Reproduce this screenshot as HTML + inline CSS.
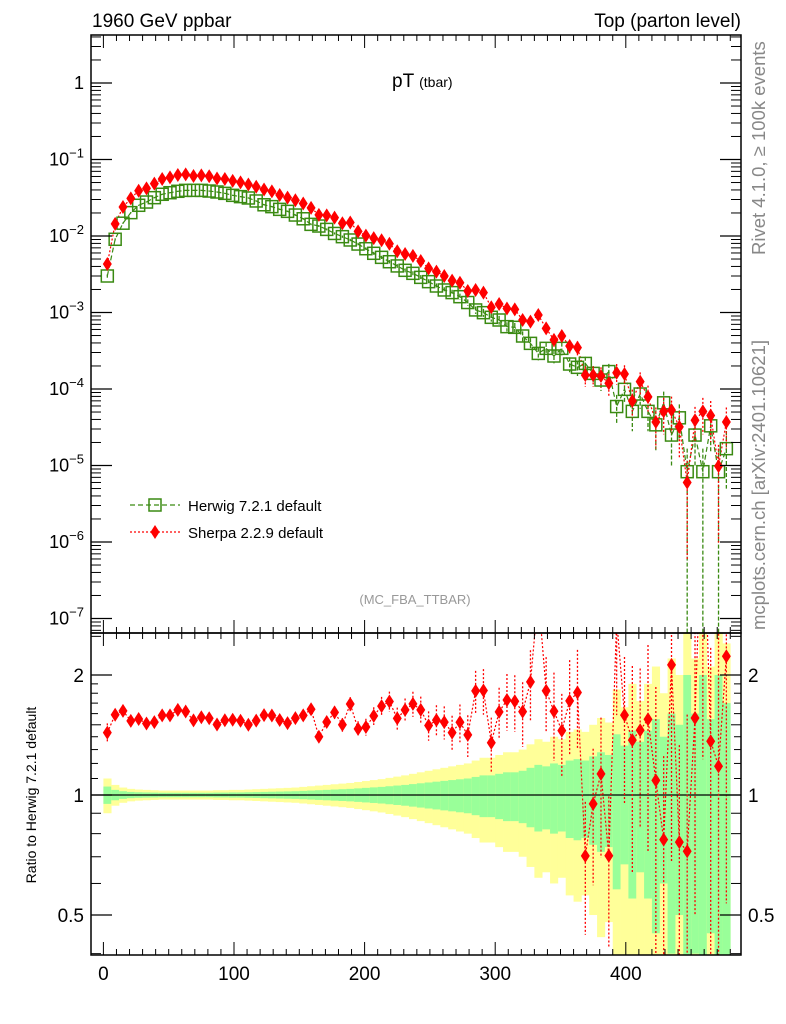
<!DOCTYPE html>
<html><head><meta charset="utf-8">
<style>
html,body{margin:0;padding:0;background:#fff;width:786px;height:1024px;overflow:hidden;}
svg{display:block;font-family:"Liberation Sans",Arial,sans-serif;}
</style></head>
<body>
<svg id="chart" width="786" height="1024" viewBox="0 0 786 1024" xmlns="http://www.w3.org/2000/svg">
<defs>
<clipPath id="clipMain"><rect x="91" y="35" width="650" height="598"/></clipPath>
<clipPath id="clipRatio"><rect x="91" y="633" width="650" height="322"/></clipPath>
</defs>
<text x="92" y="27" font-size="19">1960 GeV ppbar</text>
<text x="741" y="27" font-size="19" text-anchor="end">Top (parton level)</text>
<text x="392" y="87" font-size="19">pT <tspan font-size="14">(tbar)</tspan></text>
<text transform="translate(765,255) rotate(-90)" font-size="18.5" fill="#888">Rivet 4.1.0, ≥ 100k events</text>
<text transform="translate(765,630) rotate(-90)" font-size="18.5" fill="#888">mcplots.cern.ch [arXiv:2401.10621]</text>
<text x="415" y="604" font-size="13" fill="#999" text-anchor="middle">(MC_FBA_TTBAR)</text>
<text transform="translate(36,795) rotate(-90)" font-size="14" text-anchor="middle">Ratio to Herwig 7.2.1 default</text>
<g id="bands" clip-path="url(#clipRatio)"></g>
<g id="mainG" clip-path="url(#clipMain)"></g>
<g id="ratioG" clip-path="url(#clipRatio)"></g>
<g id="axes"></g>
<g>
 <g>
  <line x1="130" y1="505" x2="180" y2="505" stroke="#3a8a12" stroke-width="1.3" stroke-dasharray="5,3"/>
  <rect x="149" y="499" width="12" height="12" fill="none" stroke="#3a8a12" stroke-width="1.5"/>
  <text x="188" y="511" font-size="15">Herwig 7.2.1 default</text>
 </g>
 <g>
  <line x1="130" y1="532" x2="180" y2="532" stroke="#f00" stroke-width="1.3" stroke-dasharray="2,2"/>
  <polygon points="155,525 159.5,532 155,539 150.5,532" fill="#f00"/>
  <text x="188" y="538" font-size="15">Sherpa 2.2.9 default</text>
 </g>
</g>
</svg>
<script>
const binEdgesStart = 0;
const binWidth = 6;
const herwig = [3.0e-3,9.06e-3,1.47e-2,2.02e-2,2.52e-2,2.78e-2,3.17e-2,3.51e-2,3.68e-2,3.84e-2,
3.95e-2,3.95e-2,3.95e-2,3.87e-2,3.76e-2,3.61e-2,3.40e-2,3.27e-2,3.14e-2,2.87e-2,
2.56e-2,2.42e-2,2.23e-2,2.10e-2,1.88e-2,1.68e-2,1.42e-2,1.35e-2,1.22e-2,1.08e-2,
9.8e-3,8.87e-3,7.85e-3,6.82e-3,5.94e-3,5.26e-3,4.61e-3,4.06e-3,3.56e-3,3.25e-3,
2.88e-3,2.53e-3,2.22e-3,1.97e-3,1.82e-3,1.61e-3,1.35e-3,1.08e-3,9.95e-4,8.65e-4,
7.98e-4,6.53e-4,6.40e-4,4.93e-4,3.95e-4,2.92e-4,3.40e-4,2.70e-4,3.40e-4,2.12e-4,
1.92e-4,2.16e-4,1.60e-4,1.31e-4,1.69e-4,5.9e-5,9.9e-5,5.1e-5,8.6e-5,5.1e-5,
3.4e-5,6.6e-5,2.5e-5,4.2e-5,8.3e-6,2.5e-5,8.3e-6,3.3e-5,8.3e-6,1.66e-5];
const sherpa = [4.30e-3,1.44e-2,2.39e-2,3.10e-2,3.91e-2,4.20e-2,4.83e-2,5.56e-2,5.83e-2,6.28e-2,
6.40e-2,6.08e-2,6.19e-2,6.03e-2,5.65e-2,5.56e-2,5.25e-2,5.02e-2,4.71e-2,4.41e-2,
4.06e-2,3.83e-2,3.44e-2,3.18e-2,2.93e-2,2.66e-2,2.33e-2,1.89e-2,1.86e-2,1.74e-2,
1.47e-2,1.50e-2,1.15e-2,1.01e-2,9.38e-3,8.79e-3,7.91e-3,6.32e-3,5.82e-3,5.50e-3,
4.71e-3,3.78e-3,3.42e-3,3.00e-3,2.61e-3,2.45e-3,1.91e-3,1.97e-3,1.82e-3,1.17e-3,
1.29e-3,1.13e-3,1.10e-3,7.98e-4,7.59e-4,9.27e-4,6.21e-4,4.38e-4,4.93e-4,3.65e-4,
3.47e-4,1.52e-4,1.52e-4,1.48e-4,1.19e-4,1.63e-4,1.57e-4,7.0e-5,1.25e-4,7.9e-5,
3.7e-5,5.1e-5,5.3e-5,3.2e-5,6.0e-6,3.9e-5,5.1e-5,4.5e-5,9.8e-6,3.7e-5];
const errH = [0.05,0.03,0.022,0.018,0.016,0.015,0.014,0.013,0.013,0.013,
0.013,0.013,0.013,0.013,0.014,0.014,0.015,0.015,0.016,0.017,
0.018,0.019,0.02,0.021,0.022,0.024,0.026,0.028,0.03,0.032,
0.034,0.036,0.039,0.042,0.045,0.048,0.052,0.056,0.06,0.065,
0.07,0.075,0.08,0.085,0.09,0.095,0.10,0.11,0.12,0.12,
0.13,0.14,0.14,0.15,0.17,0.19,0.18,0.2,0.19,0.22,
0.23,0.22,0.25,0.28,0.26,0.42,0.33,0.45,0.36,0.45,
0.55,0.4,0.6,0.5,1.0,0.6,1.0,0.55,1.0,0.7];
const errS = [0.04,0.025,0.018,0.015,0.013,0.012,0.011,0.011,0.011,0.011,
0.011,0.011,0.011,0.011,0.012,0.012,0.012,0.013,0.013,0.014,
0.015,0.016,0.017,0.018,0.019,0.02,0.022,0.024,0.025,0.027,
0.029,0.03,0.033,0.036,0.038,0.04,0.043,0.047,0.05,0.053,
0.058,0.062,0.066,0.07,0.075,0.08,0.09,0.09,0.095,0.12,
0.11,0.12,0.12,0.14,0.15,0.13,0.16,0.19,0.18,0.2,
0.21,0.3,0.3,0.3,0.33,0.3,0.3,0.4,0.32,0.4,
0.55,0.5,0.5,0.6,0.9,0.5,0.5,0.55,0.9,0.55];
const xTicks = [0,100,200,300,400];
const mainTickExps = [0,-1,-2,-3,-4,-5,-6,-7];
const ratioTicks = [2,1,0.5];

const NS="http://www.w3.org/2000/svg";
function X(v){return 103.4+1.306*v;}
function YM(v){return 83-76.5*Math.log10(v);}
function YR(r){return 795-398.7*Math.log10(r);}
function mk(tag,attrs,parent){const e=document.createElementNS(NS,tag);for(const k in attrs)e.setAttribute(k,attrs[k]);parent.appendChild(e);return e;}
const G="#3a8a12", R="#ff0000";
const mainG=document.getElementById('mainG'), ratioG=document.getElementById('ratioG'), bands=document.getElementById('bands'), axes=document.getElementById('axes');

herwig.forEach((h,i)=>{
  const x0=X(binEdgesStart+i*binWidth), x1=X(binEdgesStart+(i+1)*binWidth);
  const e=errH[i];
  const y1=YR(1+2*e), y2=2*e>=0.99?960:YR(1-2*e);
  const b1=mk('rect',{x:x0,y:y1,width:x1-x0+0.3,height:y2-y1,fill:'#ffff99'},bands);
  
  
  const g1=YR(1+e), g2=e>=0.99?960:YR(1-e);
  const b2=mk('rect',{x:x0,y:g1,width:x1-x0+0.3,height:g2-g1,fill:'#99ff99'},bands);
  
  
});
mk('line',{x1:91,y1:YR(1),x2:741,y2:YR(1),stroke:'#000','stroke-width':1.2},ratioG);

function center(i){return X(binEdgesStart+(i+0.5)*binWidth);}
let ph='',ps='';
herwig.forEach((v,i)=>{ph+=(i?'L':'M')+center(i)+','+YM(v);});
sherpa.forEach((v,i)=>{ps+=(i?'L':'M')+center(i)+','+YM(v);});
const lh=mk('path',{d:ph,fill:'none',stroke:G,'stroke-width':1.2,'stroke-dasharray':'5,3'},mainG);


const ls=mk('path',{d:ps,fill:'none',stroke:R,'stroke-width':1.2,'stroke-dasharray':'2,2'},mainG);


herwig.forEach((v,i)=>{
  const cx=center(i), cy=YM(v), e=errH[i];
  mk('line',{x1:cx,x2:cx,y1:YM(v*(1+e)),y2:e>=0.99?640:YM(v*(1-e)),stroke:G,'stroke-width':1.3,'stroke-dasharray':'4,2'},mainG);
  const m=mk('rect',{x:cx-6,y:cy-6,width:12,height:12,fill:'none',stroke:G,'stroke-width':1.5},mainG);
  
  
});
sherpa.forEach((v,i)=>{
  const cx=center(i), cy=YM(v), e=errS[i];
  mk('line',{x1:cx,x2:cx,y1:YM(v*(1+e)),y2:e>=0.99?640:YM(v*(1-e)),stroke:R,'stroke-width':1.3,'stroke-dasharray':'2,2'},mainG);
  const m=mk('polygon',{points:`${cx},${cy-7} ${cx+4.5},${cy} ${cx},${cy+7} ${cx-4.5},${cy}`,fill:R},mainG);
  
  
});
let pr='';
sherpa.forEach((v,i)=>{const r=v/herwig[i];pr+=(i?'L':'M')+center(i)+','+YR(r);});
const lr=mk('path',{d:pr,fill:'none',stroke:R,'stroke-width':1.2,'stroke-dasharray':'2,2'},ratioG);


sherpa.forEach((v,i)=>{
  const r=v/herwig[i], cx=center(i), cy=YR(r), e=errS[i]+errH[i]*0.3;
  mk('line',{x1:cx,x2:cx,y1:YR(r*(1+e)),y2:e>=0.99?960:YR(r*(1-e)),stroke:R,'stroke-width':1.3,'stroke-dasharray':'2,2'},ratioG);
  const m=mk('polygon',{points:`${cx},${cy-7} ${cx+4.5},${cy} ${cx},${cy+7} ${cx-4.5},${cy}`,fill:R},ratioG);
  
  
});
mk('rect',{x:91,y:35,width:650,height:598,fill:'none',stroke:'#000','stroke-width':1.5},axes);
mk('rect',{x:91,y:633,width:650,height:322,fill:'none',stroke:'#000','stroke-width':1.5},axes);
mainTickExps.forEach(p=>{
  const y=YM(Math.pow(10,p));
  mk('line',{x1:91,x2:112,y1:y,y2:y,stroke:'#000','stroke-width':1.2},axes);
  mk('line',{x1:720,x2:741,y1:y,y2:y,stroke:'#000','stroke-width':1.2},axes);
  const t=mk('text',{x:84,y:y+6,'font-size':18,'text-anchor':'end'},axes);
  
  
  if(p===0){t.textContent='1';}
  else{t.textContent='10';const s=mk('tspan',{dy:-8,'font-size':13},t);s.textContent=String(p).replace('-','−');}
  for(let k=2;k<10;k++){const yy=YM(k*Math.pow(10,p-1));if(yy>36&&yy<632){
    mk('line',{x1:91,x2:101,y1:yy,y2:yy,stroke:'#000','stroke-width':1},axes);
    mk('line',{x1:731,x2:741,y1:yy,y2:yy,stroke:'#000','stroke-width':1},axes);}}
});
for(let k=2;k<=4;k++){const yy=YM(k);mk('line',{x1:91,x2:101,y1:yy,y2:yy,stroke:'#000'},axes);mk('line',{x1:731,x2:741,y1:yy,y2:yy,stroke:'#000'},axes);}
ratioTicks.forEach(r=>{
  const y=YR(r);
  mk('line',{x1:91,x2:112,y1:y,y2:y,stroke:'#000','stroke-width':1.2},axes);
  mk('line',{x1:720,x2:741,y1:y,y2:y,stroke:'#000','stroke-width':1.2},axes);
  const t=mk('text',{x:84,y:y+7,'font-size':19,'text-anchor':'end'},axes);t.textContent=String(r);
  
  
  const t2=mk('text',{x:748,y:y+7,'font-size':19},axes);t2.textContent=String(r);
  
  
});
[0.4,0.6,0.7,0.8,0.9,1.5,2.5].forEach(r=>{const y=YR(r);if(y>634&&y<954){
  mk('line',{x1:91,x2:101,y1:y,y2:y,stroke:'#000'},axes);mk('line',{x1:731,x2:741,y1:y,y2:y,stroke:'#000'},axes);}});
[1.1,1.2,1.3,1.4,1.6,1.7,1.8,1.9].forEach(r=>{const y=YR(r);
  mk('line',{x1:91,x2:98,y1:y,y2:y,stroke:'#000'},axes);mk('line',{x1:734,x2:741,y1:y,y2:y,stroke:'#000'},axes);});
for(let v=-10;v<=490;v+=10){const x=X(v);if(x<91||x>741)continue;const maj=v%100===0;
  mk('line',{x1:x,x2:x,y1:955,y2:955-(maj?13:6),stroke:'#000'},axes);
  mk('line',{x1:x,x2:x,y1:633,y2:633+(maj?13:6),stroke:'#000'},axes);
  mk('line',{x1:x,x2:x,y1:633,y2:633-(maj?13:6),stroke:'#000'},axes);
  mk('line',{x1:x,x2:x,y1:35,y2:35+(maj?13:6),stroke:'#000'},axes);}
xTicks.forEach(v=>{const t=mk('text',{x:X(v),y:980,'font-size':19,'text-anchor':'middle'},axes);t.textContent=String(v);
  
  });
</script>
</body></html>
